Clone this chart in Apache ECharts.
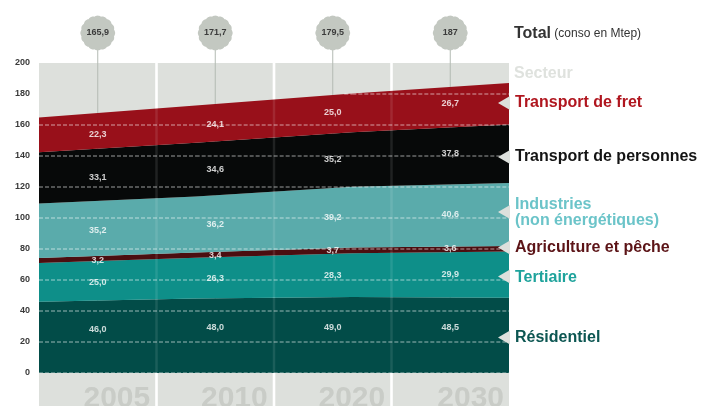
<!DOCTYPE html>
<html>
<head>
<meta charset="utf-8">
<script src="https://cdn.jsdelivr.net/npm/echarts@6/dist/echarts.min.js"></script>
<style>
  html, body { margin: 0; padding: 0; background: #ffffff; }
  #chart { width: 721px; height: 406px; }
</style>
</head>
<body>
<div id="chart"></div>
<script>
// Consommation d'énergie finale par secteur (Mtep)
const years = ['2005', '2010', '2020', '2030'];
const totals = [165.9, 171.7, 179.5, 187];
const residentiel = [46.0, 48.0, 49.0, 48.5];
const tertiaire = [25.0, 26.3, 28.3, 29.9];
const agriculture = [3.2, 3.4, 3.7, 3.6];
const industries = [35.2, 36.2, 39.2, 40.6];
const transportPersonnes = [33.1, 34.6, 35.2, 37.8];
const transportFret = [22.3, 24.1, 25.0, 26.7];
const sectorNames = ['Résidentiel', 'Tertiaire', 'Agriculture et pêche',
  'Industries (non énergétiques)', 'Transport de personnes', 'Transport de fret'];
const yMin = 0, yMax = 200, yStep = 20;

const FONT = "'Liberation Sans', Arial, Helvetica, sans-serif";
const sectorValues = [residentiel, tertiaire, agriculture, industries, transportPersonnes, transportFret];
const areaColors = ['#024c48', '#0e8f89', '#4b0e10', '#5aabab', '#070909', '#98101a'];
const legendColors = ['#0c5652', '#1ea39c', '#5c1417', '#6bc4c9', '#141414', '#b0161f'];
const fmtTotal = v => Number.isInteger(v) ? String(v) : v.toFixed(1).replace('.', ',');
const fmtValue = v => v.toFixed(1).replace('.', ',');

// cumulated top of the stack for each year
const stackTop = years.map((_, i) => sectorValues.reduce((s, arr) => s + arr[i], 0));

const chart = echarts.init(document.getElementById('chart'), null, { renderer: 'canvas' });

const series = [];

// grey year columns with the year written at their foot
series.push({
  type: 'custom', xAxisIndex: 1, z: 0, silent: true, clip: false,
  data: years.map((y, i) => [i, yMax]),
  renderItem: (params, api) => {
    const i = api.value(0);
    const c = api.coord([i, yMax]);
    const w = api.size([1, 0])[0];
    const gap = 1.3;
    const left = c[0] - w / 2 + (i === 0 ? 0 : gap);
    const right = c[0] + w / 2 - (i === years.length - 1 ? 0 : gap);
    return {
      type: 'group',
      children: [
        { type: 'rect', shape: { x: left, y: c[1], width: right - left, height: api.getHeight() - c[1] },
          style: { fill: '#dde0dc' } },
        { type: 'text', x: right - 5, y: 399,
          style: { text: years[i], textAlign: 'right', textVerticalAlign: 'middle',
            font: 'bold 30px ' + FONT, fill: '#c9ccc7' } }
      ]
    };
  }
});

// total bubbles with their stems (stems run behind the stacked areas)
series.push({
  type: 'custom', xAxisIndex: 1, z: 1, silent: true, clip: false,
  data: totals.map((t, i) => [i, t]),
  renderItem: (params, api) => {
    const i = api.value(0);
    const base = api.coord([i, yMin]);
    const cx = base[0], cy = 33;
    const pts = [];
    const n = 160;
    for (let k = 0; k < n; k++) {
      const a = (k / n) * Math.PI * 2;
      const r = 16.6 + 0.8 * Math.abs(Math.cos(8 * a));
      pts.push([cx + r * Math.cos(a), cy + r * Math.sin(a)]);
    }
    return {
      type: 'group',
      children: [
        { type: 'line', shape: { x1: cx, y1: cy + 16, x2: cx, y2: base[1] },
          style: { stroke: '#b3bab3', lineWidth: 1 } },
        { type: 'polygon', shape: { points: pts }, style: { fill: '#c3c8c1' } },
        { type: 'text', x: cx, y: cy,
          style: { text: fmtTotal(totals[i]), textAlign: 'center', textVerticalAlign: 'middle',
            font: 'bold 9px ' + FONT, fill: '#3b3b3b' } }
      ]
    };
  }
});

// stacked sector areas
sectorNames.forEach((name, s) => {
  series.push({
    name, type: 'line', xAxisIndex: 0, stack: 'conso', z: 2,
    symbol: 'none', smooth: false,
    lineStyle: { width: 0 },
    areaStyle: { color: areaColors[s], opacity: 1 },
    itemStyle: { color: areaColors[s] },
    data: sectorValues[s]
  });
});

// dashed reference lines drawn only inside the stack, plus faint column dividers
series.push({
  type: 'custom', xAxisIndex: 0, z: 3, silent: true, clip: true,
  data: [[0, 0]],
  renderItem: (params, api) => {
    const children = [];
    for (let v = yMin; v < yMax; v += yStep) {
      for (let i = 0; i < years.length - 1; i++) {
        const t0 = stackTop[i], t1 = stackTop[i + 1];
        const p0 = api.coord([i, v]), p1 = api.coord([i + 1, v]);
        let xa = p0[0], xb = p1[0];
        if (t0 < v && t1 < v) continue;
        if (t0 < v) xa = p0[0] + (p1[0] - p0[0]) * (v - t0) / (t1 - t0);
        if (t1 < v) xb = p0[0] + (p1[0] - p0[0]) * (t0 - v) / (t0 - t1);
        children.push({ type: 'line', shape: { x1: xa, y1: p0[1], x2: xb, y2: p0[1] },
          style: { stroke: 'rgba(255,255,255,0.6)', lineWidth: 1, lineDash: [4, 2] } });
      }
    }
    const a = api.coord([0, yMin]), b = api.coord([years.length - 1, yMin]);
    const top = api.coord([0, yMax])[1];
    for (let k = 1; k < years.length; k++) {
      const x = a[0] + (b[0] - a[0]) * k / years.length;
      children.push({ type: 'line', shape: { x1: x, y1: top, x2: x, y2: a[1] },
        style: { stroke: 'rgba(255,255,255,0.1)', lineWidth: 2.5 } });
    }
    return { type: 'group', children };
  }
});

// value labels at the middle of each band
const baseAcc = years.map(() => 0);
sectorNames.forEach((name, s) => {
  const vals = sectorValues[s];
  const data = vals.map((v, i) => [i, baseAcc[i] + v / 2, v]);
  vals.forEach((v, i) => { baseAcc[i] += v; });
  series.push({
    type: 'scatter', xAxisIndex: 1, z: 4, silent: true,
    symbolSize: 1, itemStyle: { color: 'rgba(0,0,0,0)' },
    data,
    label: {
      show: true, position: 'inside',
      offset: s === 0 ? [0, -8] : [0, 0],
      formatter: p => fmtValue(p.value[2]),
      color: '#ffffff', fontWeight: 'bold', fontSize: 9, fontFamily: FONT
    }
  });
});

// right-hand captions and pointers
const captionY = [338, 278, 248, 197, 157, 103];
const pointerY = [337.5, 276.5, 247.5, 212, 157, 103];
const graphic = [
  { type: 'text', left: 514, top: 26,
    style: { text: '{b|Total} {n|(conso en Mtep)}',
      rich: { b: { font: 'bold 16px ' + FONT, fill: '#333333' },
              n: { font: '12px ' + FONT, fill: '#333333' } } } },
  { type: 'text', x: 514, y: 74,
    style: { text: 'Secteur', font: 'bold 16px ' + FONT, fill: '#dfe2de', textVerticalAlign: 'middle' } }
];
sectorNames.forEach((name, s) => {
  const text = name.replace(' (', '\n(');
  graphic.push({
    type: 'text', x: 515, y: captionY[s],
    style: { text, font: 'bold 16px ' + FONT, fill: legendColors[s],
      textVerticalAlign: text.includes('\n') ? 'top' : 'middle', lineHeight: 16 }
  });
  graphic.push({
    type: 'polygon', z: 100,
    shape: { points: [[510, pointerY[s] - 7], [510, pointerY[s] + 7], [498, pointerY[s]]] },
    style: { fill: '#dde0dc' }
  });
});

chart.setOption({
  animation: false,
  grid: { left: 39, right: 212, top: 63, bottom: 33 },
  xAxis: [
    { type: 'category', data: years, boundaryGap: false, show: false },
    { type: 'category', data: years, boundaryGap: true, show: false }
  ],
  yAxis: {
    type: 'value', min: yMin, max: yMax, interval: yStep,
    axisLine: { show: false }, axisTick: { show: false }, splitLine: { show: false },
    axisLabel: { color: '#3a3a3a', fontWeight: 'bold', fontSize: 9, margin: 9, fontFamily: FONT }
  },
  series,
  graphic
});
</script>
</body>
</html>
